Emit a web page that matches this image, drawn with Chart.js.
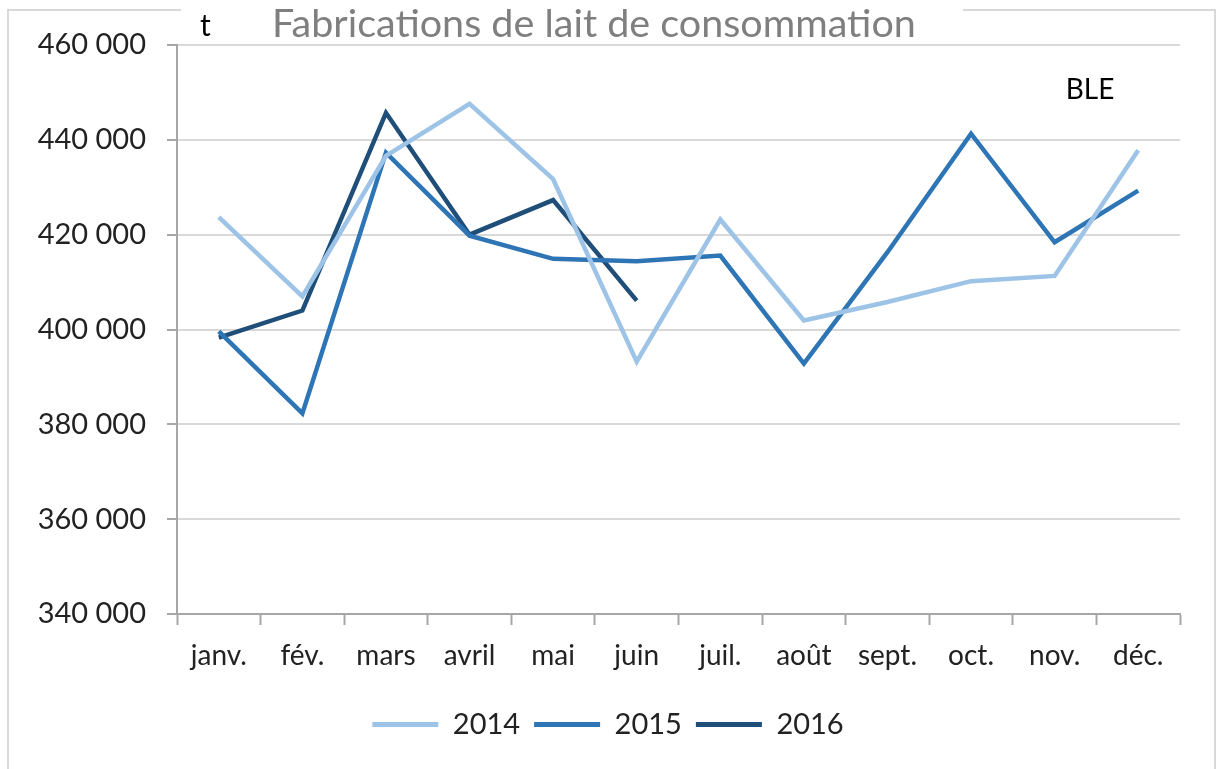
<!DOCTYPE html>
<html>
<head>
<meta charset="utf-8">
<script src="https://cdn.jsdelivr.net/npm/chart.js@4/dist/chart.umd.min.js"></script>
<style>
  html, body { margin: 0; padding: 0; background: #fff; }
  canvas { display: block; }
</style>
</head>
<body>
<canvas id="laitChart" width="1216" height="769"></canvas>
<script>
const months = ['janv.', 'fév.', 'mars', 'avril', 'mai', 'juin', 'juil.', 'août', 'sept.', 'oct.', 'nov.', 'déc.'];

const lait2014 = [423700, 407000, 436600, 447600, 431700, 393200, 423200, 401900, 405800, 410200, 411300, 437800];
const lait2015 = [399600, 382300, 437300, 419800, 414900, 414400, 415600, 392800, 416300, 441300, 418400, 429300];
const lait2016 = [398300, 404000, 445700, 420000, 427300, 406100];

const yMin = 340000;
const yMax = 460000;
const yStep = 20000;

const titleText = 'Fabrications de lait de consommation';
const unitText = 't';
const sourceText = 'BLE';

const FONT = 'Lato, "Open Sans", sans-serif';

function fmt(v) {
  return String(v).replace(/\B(?=(\d{3})+(?!\d))/g, ' ');
}

// outer frame, then the white title band over the top edge
const decor = {
  id: 'decor',
  beforeDraw(chart) {
    const ctx = chart.ctx;
    ctx.save();
    ctx.strokeStyle = '#d9d9d9';
    ctx.lineWidth = 2;
    ctx.strokeRect(8, 10, 1207, 775);
    ctx.restore();
  },
  afterDraw(chart) {
    const ctx = chart.ctx;
    ctx.save();
    ctx.fillStyle = '#fff';
    ctx.fillRect(181, 0, 782, 44);
    ctx.textBaseline = 'middle';
    ctx.fillStyle = '#000';
    ctx.font = '30px ' + FONT;
    ctx.textAlign = 'left';
    ctx.fillText(unitText, 200, 26);
    ctx.fillStyle = '#7f7f7f';
    ctx.font = '39.5px ' + FONT;
    ctx.fillText(titleText, 272, 24);
    ctx.fillStyle = '#000';
    ctx.font = '28px ' + FONT;
    ctx.textAlign = 'center';
    ctx.fillText(sourceText, 1090, 90);
    ctx.restore();
  }
};

function lineSet(label, data, color) {
  return {
    label,
    data,
    borderColor: color,
    backgroundColor: color,
    borderWidth: 4.5,
    pointRadius: 0,
    pointHoverRadius: 0,
    tension: 0,
    yAxisID: 'y'
  };
}

new Chart(document.getElementById('laitChart'), {
  type: 'line',
  data: {
    labels: months,
    datasets: [
      lineSet('2014', lait2014, '#9dc3e6'),
      lineSet('2015', lait2015, '#2e75b6'),
      lineSet('2016', lait2016, '#1f4e79')
    ]
  },
  options: {
    responsive: false,
    animation: false,
    layout: { padding: { top: 45, bottom: 20, left: 0, right: 0 } },
    plugins: {
      title: { display: false },
      tooltip: { enabled: false },
      legend: {
        position: 'bottom',
        labels: {
          boxWidth: 66,
          boxHeight: 5,
          padding: 14,
          color: '#222',
          font: { family: FONT, size: 29 },
          generateLabels(chart) {
            const items = Chart.defaults.plugins.legend.labels.generateLabels(chart);
            items.forEach((it) => { it.lineWidth = 0; });
            return items;
          }
        }
      }
    },
    scales: {
      x: {
        offset: true,
        grid: {
          offset: true,
          drawOnChartArea: false,
          drawTicks: true,
          tickLength: 11,
          tickColor: '#a6a6a6',
          tickWidth: 2
        },
        border: { color: '#a6a6a6', width: 2 },
        ticks: {
          color: '#222',
          padding: 14,
          maxRotation: 0,
          autoSkip: false,
          font: { family: FONT, size: 28 }
        },
        afterFit(scale) { scale.height = 82; }
      },
      y: {
        position: 'left',
        min: yMin,
        max: yMax,
        grid: {
          color: '#d9d9d9',
          lineWidth: 2,
          tickLength: 10,
          tickColor: '#a6a6a6',
          tickWidth: 2
        },
        border: { color: '#a6a6a6', width: 2 },
        ticks: {
          stepSize: yStep,
          color: '#222',
          padding: 21,
          font: { family: FONT, size: 29 },
          callback: (v) => fmt(v)
        },
        afterFit(scale) { scale.width = 177; }
      },
      yRight: {
        position: 'right',
        display: true,
        grid: { display: false },
        border: { display: false },
        ticks: { display: false },
        afterFit(scale) { scale.width = 36; }
      }
    }
  },
  plugins: [decor]
});
</script>
</body>
</html>
